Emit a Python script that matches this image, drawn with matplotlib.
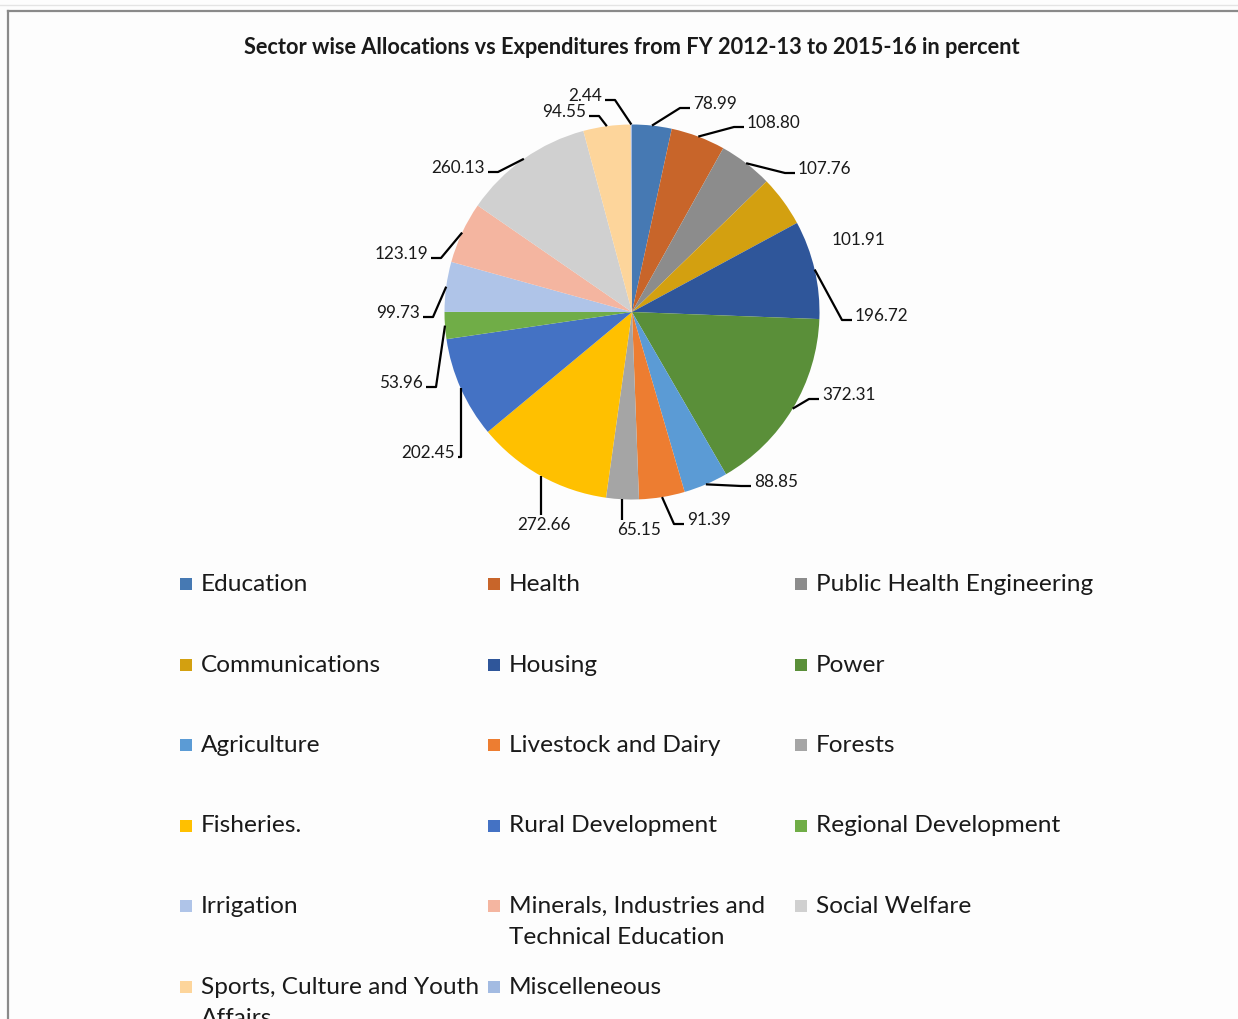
import matplotlib
matplotlib.use("Agg")
import matplotlib.pyplot as plt
from matplotlib.patches import Rectangle
from matplotlib.lines import Line2D
import numpy as np

# ---- data -------------------------------------------------------------
sectors = [
    "Education", "Health", "Public Health Engineering", "Communications",
    "Housing", "Power", "Agriculture", "Livestock and Dairy", "Forests",
    "Fisheries.", "Rural Development", "Regional Development", "Irrigation",
    "Minerals, Industries and\nTechnical Education", "Social Welfare",
    "Sports, Culture and Youth\nAffairs", "Miscelleneous",
]
percent = [78.99, 108.80, 107.76, 101.91, 196.72, 372.31, 88.85, 91.39, 65.15,
           272.66, 202.45, 53.96, 99.73, 123.19, 260.13, 94.55, 2.44]
value_labels = ["78.99", "108.80", "107.76", "101.91", "196.72", "372.31", "88.85",
                "91.39", "65.15", "272.66", "202.45", "53.96", "99.73", "123.19",
                "260.13", "94.55", "2.44"]

colors = ["#4679b3", "#c8652a", "#8c8c8c", "#d3a010", "#2f569a", "#5a8f39",
          "#5b9bd5", "#ed7d31", "#a5a5a5", "#ffc000", "#4472c4", "#70ad47",
          "#afc4e8", "#f4b5a0", "#d0d0d0", "#fdd59b", "#a3bbe2"]

# ---- layout (pixels) ---------------------------------------------------
W, H = 1238, 1019
CX, CY, R = 632, 312, 187.5          # pie centre and radius
# label anchor (x, y-centre) and side: r = text to the right, l = left,
# b = below, n = no leader line
label_pos = [(693, 104, "r"), (747, 123, "r"), (798, 169, "r"), (832, 240, "n"),
             (855, 316, "r"), (822, 395, "r"), (754, 482, "r"), (687, 520, "r"),
             (639, 530, "b"), (544, 525, "b"), (455, 453, "l"), (423, 383, "l"),
             (420, 313, "l"), (428, 254, "l"), (485, 168, "l"), (586, 112, "l"),
             (602, 96, "l")]

FONT = "Lato"
plt.rcParams["font.family"] = [FONT, "DejaVu Sans"]

fig = plt.figure(figsize=(W / 100, H / 100), dpi=100)
fig.patch.set_facecolor("#fdfdfd")


def fx(px):
    return px / W


def fy(py):
    return 1 - py / H


# chart frame (runs past the right and bottom edges)
fig.add_artist(Line2D([fx(8), fx(8)], [fy(11), fy(H + 20)], color="#8a8a8a", lw=1.6,
                      transform=fig.transFigure))
fig.add_artist(Line2D([fx(8), fx(W + 20)], [fy(11), fy(11)], color="#8a8a8a", lw=1.6,
                      transform=fig.transFigure))
fig.add_artist(Line2D([0, 1], [fy(5), fy(5)], color="#e4e4e4", lw=1.0,
                      transform=fig.transFigure))

fig.text(fx(632), fy(47), "Sector wise Allocations vs Expenditures from FY 2012-13 to 2015-16 in percent",
         ha="center", va="center", fontsize=15.7, fontweight="bold", color="#1a1a1a")

# ---- pie ---------------------------------------------------------------
half = 300
ax = fig.add_axes([fx(CX - half), fy(CY + half), 2 * half / W, 2 * half / H])
ax.axis("off")

wedges, _ = ax.pie(percent, colors=colors, startangle=90, counterclock=False,
                   radius=1.0, wedgeprops=dict(linewidth=0))
lim = half / R
ax.set_xlim(-lim, lim)
ax.set_ylim(-lim, lim)


def to_data(px, py):
    return (px - CX) / R, (CY - py) / R


elbow = 10 / R
for w, txt, (px, py, side) in zip(wedges, value_labels, label_pos):
    mid = np.deg2rad((w.theta1 + w.theta2) / 2)
    ex, ey = np.cos(mid), np.sin(mid)
    tx, ty = to_data(px, py)
    if side == "r":
        ax.text(tx, ty, txt, ha="left", va="center", fontsize=12.3, color="#1a1a1a")
        axx, ayy = tx - 3 / R, ty - 4 / R
        el = min(elbow, abs(axx - ex))
        ax.plot([ex, axx - el, axx], [ey, ayy, ayy], color="black", lw=1.6,
                solid_capstyle="butt")
    elif side == "l":
        ax.text(tx, ty, txt, ha="right", va="center", fontsize=12.3, color="#1a1a1a")
        axx, ayy = tx + 3 / R, ty - 4 / R
        el = min(elbow, abs(ex - axx))
        ax.plot([ex, axx + el, axx], [ey, ayy, ayy], color="black", lw=1.6,
                solid_capstyle="butt")
    elif side == "b":
        ax.text(tx, ty, txt, ha="center", va="center", fontsize=12.3, color="#1a1a1a")
        ax.plot([ex, ex], [ey, ty + 10 / R], color="black", lw=1.6,
                solid_capstyle="butt")
    else:
        ax.text(tx, ty, txt, ha="left", va="center", fontsize=12.3, color="#1a1a1a")

# ---- legend (three columns, filled row by row) -------------------------
col_x = [180, 488, 795]
row_y0, row_dy = 586, 80.5
for i, (name, c) in enumerate(zip(sectors, colors)):
    r, k = divmod(i, 3)
    x = col_x[k]
    y = row_y0 + r * row_dy
    fig.add_artist(Rectangle((fx(x), fy(y + 4)), 12 / W, 12 / H, facecolor=c,
                             edgecolor="none", transform=fig.transFigure))
    fig.text(fx(x + 21), fy(y - 12), name, ha="left", va="top", fontsize=17.6,
             color="#1a1a1a", linespacing=1.6)

fig.savefig("out.png", dpi=100, facecolor=fig.get_facecolor())
